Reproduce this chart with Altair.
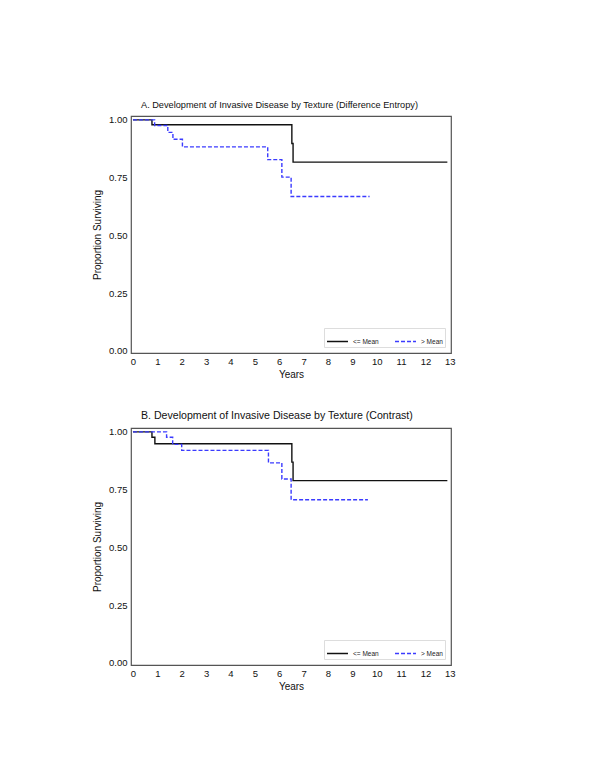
import altair as alt
import pandas as pd

# Panel A: Difference Entropy
a_low_t = [0, 0.78, 6.52, 6.57, 12.9]
a_low_s = [1.0, 0.979, 0.898, 0.817, 0.817]
a_high_t = [0, 0.89, 1.43, 1.64, 2.03, 5.53, 6.11, 6.49, 9.71]
a_high_s = [1.0, 0.976, 0.946, 0.916, 0.883, 0.828, 0.752, 0.668, 0.668]

# Panel B: Contrast
b_low_t = [0, 0.78, 0.9, 6.52, 6.57, 12.9]
b_low_s = [1.0, 0.977, 0.949, 0.869, 0.789, 0.789]
b_high_t = [0, 1.38, 1.63, 2.0, 5.56, 6.11, 6.49, 9.64]
b_high_s = [1.0, 0.977, 0.946, 0.920, 0.866, 0.796, 0.706, 0.706]

groups = ["<= Mean", "> Mean"]
titles = ["A. Development of Invasive Disease by Texture (Difference Entropy)",
          "B. Development of Invasive Disease by Texture (Contrast)"]
x_ticks = list(range(0, 14))
y_ticks = [0.0, 0.25, 0.5, 0.75, 1.0]

FONT = "Liberation Sans"


def make_df(lt, ls, ht, hs):
    rows = []
    for t, s in zip(lt, ls):
        rows.append({"t": t, "s": s, "g": groups[0]})
    for t, s in zip(ht, hs):
        rows.append({"t": t, "s": s, "g": groups[1]})
    return pd.DataFrame(rows)


def panel(df, title, title_size):
    return alt.Chart(df).mark_line(interpolate="step-after", strokeWidth=1.4).encode(
        x=alt.X("t:Q", title="Years",
                scale=alt.Scale(domain=[-0.08, 13.05], nice=False, zero=False),
                axis=alt.Axis(values=x_ticks, format="d", grid=False, ticks=False,
                              labelPadding=3, titlePadding=4, domain=False)),
        y=alt.Y("s:Q", title="Proportion Surviving",
                scale=alt.Scale(domain=[-0.01, 1.017], nice=False, zero=False),
                axis=alt.Axis(values=y_ticks, format=".2f", grid=False, ticks=False,
                              labelPadding=4, titlePadding=6, domain=False)),
        color=alt.Color("g:N", title=None,
                        scale=alt.Scale(domain=groups, range=["#111111", "#3b3bff"]),
                        legend=alt.Legend(orient="bottom-right", direction="horizontal",
                                          symbolType="stroke", symbolSize=440,
                                          symbolStrokeWidth=1.6, labelFontSize=6.5,
                                          labelFont=FONT, labelColor="#222",
                                          fillColor="white", strokeColor="#dddddd",
                                          padding=2, offset=6, columnPadding=12,
                                          labelOffset=4)),
        strokeDash=alt.StrokeDash("g:N", title=None,
                                  scale=alt.Scale(domain=groups, range=[[1, 0], [4, 2]])),
    ).properties(
        width=320, height=237,
        title=alt.TitleParams(title, anchor="start", frame="group", dx=10,
                              fontSize=title_size, fontWeight="normal", font=FONT,
                              color="#111", offset=5),
    )


chartA = panel(make_df(a_low_t, a_low_s, a_high_t, a_high_s), titles[0], 9.2)
chartB = panel(make_df(b_low_t, b_low_s, b_high_t, b_high_s), titles[1], 10.6)

chart = alt.vconcat(chartA, chartB, spacing=29).resolve_legend(
    color="independent", strokeDash="independent"
).resolve_scale(
    color="independent", strokeDash="independent"
).properties(
    padding={"left": 83, "top": 92, "right": 5, "bottom": 5}
).configure_view(
    stroke="#555555", strokeWidth=1.2
).configure_axis(
    labelFont=FONT, titleFont=FONT, labelFontSize=9.5, titleFontSize=10,
    labelColor="#111", titleColor="#111", titleFontWeight="normal"
).configure_legend(
    labelFont=FONT
)

chart.save("out.html", embed_options={"renderer": "svg", "actions": False})
